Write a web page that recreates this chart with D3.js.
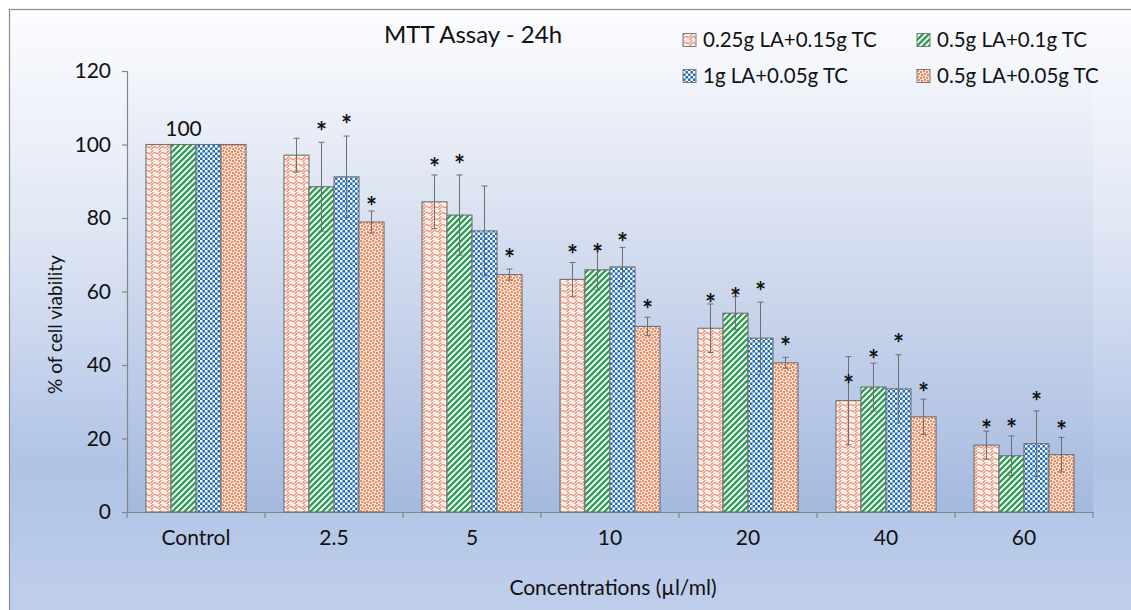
<!DOCTYPE html>
<html>
<head>
<meta charset="utf-8">
<script src="https://cdn.jsdelivr.net/npm/d3@7"></script>
<style>
  html, body { margin: 0; padding: 0; background: #ffffff; }
  svg { display: block; }
  text { font-family: Lato, "Open Sans", sans-serif; fill: #111111; }
</style>
</head>
<body>
<svg id="chart" width="1131" height="610"></svg>
<script>
// ---------- DATA ----------
const categories = ["Control", "2.5", "5", "10", "20", "40", "60"];
const seriesNames = ["0.25g LA+0.15g TC", "0.5g LA+0.1g TC", "1g LA+0.05g TC", "0.5g LA+0.05g TC"];
const s1Values = [100, 97.1, 84.4, 63.3, 50.0, 30.3, 18.2];
const s2Values = [100, 88.5, 80.8, 65.9, 54.1, 34.0, 15.3];
const s3Values = [100, 91.2, 76.5, 66.7, 47.3, 33.5, 18.6];
const s4Values = [100, 78.9, 64.6, 50.5, 40.6, 25.9, 15.6];
const s1Errors = [0, 4.6, 7.3, 4.6, 6.6, 12.0, 3.8];
const s2Errors = [0, 12.1, 10.9, 5.5, 4.5, 6.5, 5.4];
const s3Errors = [0, 11.1, 12.2, 5.3, 9.8, 9.3, 8.9];
const s4Errors = [0, 3.0, 1.5, 2.5, 1.5, 4.8, 4.7];
// heights (in % units) where the significance stars sit; null = no star
const s1Stars = [null, null, 94.9, 71.3, 58.0, 35.8, 23.7];
const s2Stars = [null, 104.7, 95.8, 71.5, 59.7, 42.8, 23.9];
const s3Stars = [null, 106.7, null, 74.6, 61.3, 47.1, 31.4];
const s4Stars = [null, 84.4, 70.1, 56.2, 46.2, 33.8, 23.5];
const yTicks = [0, 20, 40, 60, 80, 100, 120];
const controlLabel = "100";
const titleText = "MTT Assay - 24h";
const xTitle = "Concentrations (\u00b5l/ml)";
const yTitle = "% of cell viability";

const values = [s1Values, s2Values, s3Values, s4Values];
const errors = [s1Errors, s2Errors, s3Errors, s4Errors];
const stars = [s1Stars, s2Stars, s3Stars, s4Stars];

// ---------- SETUP ----------
const svg = d3.select("#chart");
const W = 1131, H = 610;
const plot = { left: 127, right: 1093, top: 71, bottom: 512 };

const defs = svg.append("defs");
const bg = defs.append("linearGradient").attr("id", "bgGrad").attr("x1", 0).attr("y1", 0).attr("x2", 0).attr("y2", 1);
[[0, "#fbfcfe"], [0.35, "#e1e8f5"], [0.75, "#b0c3e5"], [1, "#c0cfeb"]].forEach(([o, c]) =>
  bg.append("stop").attr("offset", o).attr("stop-color", c));
const pg = defs.append("linearGradient").attr("id", "plotGrad").attr("x1", 0).attr("y1", 0).attr("x2", 0).attr("y2", 1);
[[0, "#f3f5fb"], [0.4, "#d4ddef"], [1, "#a4b9df"]].forEach(([o, c]) =>
  pg.append("stop").attr("offset", o).attr("stop-color", c));

function pat(id, w, h) {
  return defs.append("pattern").attr("id", id).attr("patternUnits", "userSpaceOnUse")
    .attr("width", w).attr("height", h);
}
// series 1: scalloped wave pattern
const p1 = pat("p1", 8, 6);
p1.append("rect").attr("width", 8).attr("height", 6).attr("fill", "#fef5ef");
p1.append("path").attr("d", "M0,5 Q2,1 4,3 Q6,5 8,1 M0,2 Q2,-2 4,0 M4,6 Q6,8 8,4")
  .attr("fill", "none").attr("stroke", "#e6907a").attr("stroke-width", 1.1);
// series 2: green diagonal stripes
const p2 = pat("p2", 6, 6);
p2.append("rect").attr("width", 6).attr("height", 6).attr("fill", "#ffffff");
p2.append("path").attr("d", "M-1.5,1.5 L1.5,-1.5 M0,6 L6,0 M4.5,7.5 L7.5,4.5")
  .attr("stroke", "#2f9e57").attr("stroke-width", 2.4);
// series 3: blue checker
const p3 = pat("p3", 5, 5);
p3.append("rect").attr("width", 5).attr("height", 5).attr("fill", "#1f6cbd");
p3.append("rect").attr("x", 0).attr("y", 0).attr("width", 2.5).attr("height", 2.5).attr("fill", "#ffffff");
p3.append("rect").attr("x", 2.5).attr("y", 2.5).attr("width", 2.5).attr("height", 2.5).attr("fill", "#ffffff");
// series 4: confetti dots on peach
const p4 = pat("p4", 6, 6);
p4.append("rect").attr("width", 6).attr("height", 6).attr("fill", "#fbe1d0");
[[1, 1], [4, 2], [2, 4], [5, 5]].forEach(([x, y]) =>
  p4.append("circle").attr("cx", x).attr("cy", y).attr("r", 0.95).attr("fill", "#e2653a"));
const fills = ["url(#p1)", "url(#p2)", "url(#p3)", "url(#p4)"];

// backgrounds
svg.append("rect").attr("width", W).attr("height", H).attr("fill", "#ffffff");
svg.append("rect").attr("x", 9.5).attr("y", 9.5).attr("width", W).attr("height", H)
  .attr("fill", "url(#bgGrad)").attr("stroke", "#8c8c8c").attr("stroke-width", 1.2);
svg.append("rect").attr("x", plot.left).attr("y", plot.top)
  .attr("width", plot.right - plot.left).attr("height", plot.bottom - plot.top)
  .attr("fill", "url(#plotGrad)");

// scales
const x0 = d3.scaleBand().domain(categories).range([plot.left, plot.right]).paddingInner(0).paddingOuter(0);
const groupW = x0.bandwidth() * 0.725;
const x1 = d3.scaleBand().domain(d3.range(seriesNames.length)).range([0, groupW]).padding(0);
const y = d3.scaleLinear().domain([0, 120]).range([plot.bottom, plot.top]);
const gx = c => x0(c) + (x0.bandwidth() - groupW) / 2;

// axes
const yAxis = d3.axisLeft(y).tickValues(yTicks).tickSize(5).tickPadding(11);
const gy = svg.append("g").attr("transform", `translate(${plot.left},0)`).call(yAxis);
gy.selectAll("path,line").attr("stroke", "#868686").attr("stroke-width", 1.2);
gy.selectAll("text").attr("font-size", 21).attr("fill", "#111").style("font-family", "Lato, sans-serif");

const xAxis = d3.axisBottom(x0).tickSize(0).tickPadding(18);
const gxA = svg.append("g").attr("transform", `translate(0,${plot.bottom})`).call(xAxis);
gxA.select(".domain").attr("stroke", "#868686").attr("stroke-width", 1.2);
gxA.selectAll("text").attr("font-size", 21).attr("fill", "#111").style("font-family", "Lato, sans-serif");
const bounds = categories.map(c => x0(c)).concat([plot.right]);
svg.append("g").selectAll("line").data(bounds).join("line")
  .attr("x1", d => d).attr("x2", d => d)
  .attr("y1", plot.bottom).attr("y2", plot.bottom + 6)
  .attr("stroke", "#868686").attr("stroke-width", 1.2);

// bars
const barData = [];
categories.forEach((c, ci) => values.forEach((vals, si) => {
  barData.push({ c, ci, si, v: vals[ci], e: errors[si][ci], s: stars[si][ci] });
}));
svg.append("g").selectAll("rect").data(barData).join("rect")
  .attr("x", d => gx(d.c) + x1(d.si))
  .attr("y", d => y(d.v))
  .attr("width", x1.bandwidth())
  .attr("height", d => y(0) - y(d.v))
  .attr("fill", d => fills[d.si])
  .attr("stroke", "#707070").attr("stroke-width", 1.1);

// error bars
const eb = svg.append("g").attr("stroke", "#6e6e6e").attr("stroke-width", 1);
barData.filter(d => d.e > 0).forEach(d => {
  const cx = gx(d.c) + x1(d.si) + x1.bandwidth() / 2;
  eb.append("line").attr("x1", cx).attr("x2", cx).attr("y1", y(d.v - d.e)).attr("y2", y(d.v + d.e));
  eb.append("line").attr("x1", cx - 3).attr("x2", cx + 3).attr("y1", y(d.v + d.e)).attr("y2", y(d.v + d.e));
  eb.append("line").attr("x1", cx - 3).attr("x2", cx + 3).attr("y1", y(d.v - d.e)).attr("y2", y(d.v - d.e));
});

// stars
svg.append("g").selectAll("text").data(barData.filter(d => d.s != null)).join("text")
  .attr("x", d => gx(d.c) + x1(d.si) + x1.bandwidth() / 2)
  .attr("y", d => y(d.s) + 14)
  .attr("text-anchor", "middle")
  .attr("font-size", 26).attr("font-weight", "bold")
  .text("*");

// control label
svg.append("text")
  .attr("x", gx(categories[0]) + x1(1) + x1.bandwidth() / 2)
  .attr("y", y(100) - 9)
  .attr("text-anchor", "middle").attr("font-size", 21)
  .text(controlLabel);

// title
svg.append("text").attr("x", 473).attr("y", 43).attr("text-anchor", "middle")
  .attr("font-size", 24).text(titleText);

// axis titles
svg.append("text").attr("x", 613).attr("y", 595).attr("text-anchor", "middle")
  .attr("font-size", 21).text(xTitle);
svg.append("text").attr("transform", `translate(62,${(plot.top + plot.bottom) / 2 + 33}) rotate(-90)`)
  .attr("text-anchor", "middle").attr("font-size", 19).text(yTitle);

// legend
const legendPos = [[683, 40], [917, 40], [683, 76], [917, 76]];
const lg = svg.append("g").selectAll("g").data(seriesNames).join("g")
  .attr("transform", (d, i) => `translate(${legendPos[i][0]},${legendPos[i][1]})`);
lg.append("rect").attr("x", 0).attr("y", -6.5).attr("width", 13).attr("height", 13)
  .attr("fill", (d, i) => fills[i]).attr("stroke", "#7a7a7a").attr("stroke-width", 1);
lg.append("text").attr("x", 20).attr("y", 7).attr("font-size", 20.5).text(d => d);
</script>
</body>
</html>
